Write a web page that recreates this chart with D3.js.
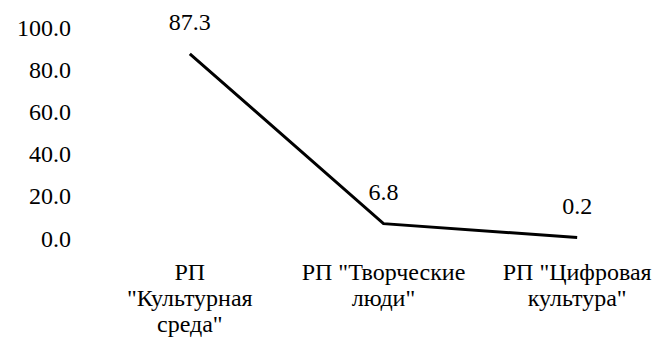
<!DOCTYPE html>
<html>
<head>
<meta charset="utf-8">
<script src="https://cdn.jsdelivr.net/npm/d3@7"></script>
<style>
  html, body { margin: 0; background: #fff; font-family: "Times New Roman", "Liberation Serif", Tinos, FreeSerif; }
  text, tspan { font-family: "Times New Roman", "Liberation Serif", Tinos, FreeSerif; }
</style>
</head>
<body>
<svg id="chart" width="659" height="343" font-family="Times New Roman"></svg>
<script>
// Project shares, %
const categories = [
  'РП\n"Культурная\nсреда"',
  'РП "Творческие\nлюди"',
  'РП "Цифровая\nкультура"'
];
const values = [87.3, 6.8, 0.2];
const yTicks = [0, 20, 40, 60, 80, 100];

const svg = d3.select("#chart");
const fontSize = 24;
const family = '"Times New Roman", "Liberation Serif", Tinos, FreeSerif';

const x = d3.scaleBand().domain(categories).range([93, 674]).padding(0);
const y = d3.scaleLinear().domain([0, 100]).range([238, 27]);

function styleText(sel) {
  return sel
    .attr("font-family", "Times New Roman")
    .style("font-family", family)
    .style("font-size", fontSize + "px")
    .style("fill", "#000");
}

// Value axis: labels only, no line or ticks
const yAxis = svg.append("g")
  .attr("transform", "translate(71,0)")
  .call(d3.axisLeft(y).tickValues(yTicks).tickFormat(d3.format(".1f")).tickSize(0).tickPadding(0));
yAxis.attr("font-family", "Times New Roman").attr("font-size", fontSize);
yAxis.select(".domain").remove();
styleText(yAxis.selectAll("text").attr("dy", "0.34em"));

// Category labels, wrapped on line breaks
const cat = svg.append("g");
categories.forEach(c => {
  const t = styleText(cat.append("text")
    .attr("text-anchor", "middle")
    .attr("y", 280));
  c.split("\n").forEach((line, i) => {
    t.append("tspan")
      .attr("x", x(c) + x.bandwidth() / 2)
      .attr("dy", i === 0 ? 0 : 26)
      .text(line);
  });
});

const pts = categories.map((c, i) => [x(c) + x.bandwidth() / 2, y(values[i])]);

svg.append("path")
  .datum(pts)
  .attr("fill", "none")
  .attr("stroke", "#000")
  .attr("stroke-width", 3)
  .attr("stroke-linejoin", "miter")
  .attr("d", d3.line());

// Data labels above each point
styleText(svg.append("g").selectAll("text")
  .data(values)
  .join("text")
  .attr("text-anchor", "middle")
  .attr("x", (d, i) => pts[i][0])
  .attr("y", (d, i) => pts[i][1] - 24))
  .text(d => d3.format(".1f")(d));
</script>
</body>
</html>
